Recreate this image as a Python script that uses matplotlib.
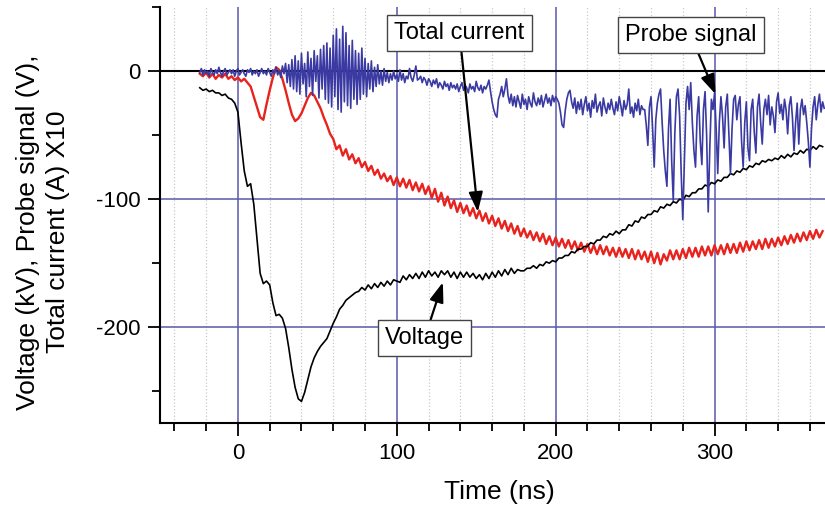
import numpy as np
import matplotlib
matplotlib.use("Agg")
import matplotlib.pyplot as plt
from matplotlib.ticker import MultipleLocator

plt.rcParams['font.family'] = ['Liberation Sans', 'DejaVu Sans']
plt.rcParams['axes.unicode_minus'] = False

# time grids (ns)
t_slow = np.arange(-24, 369, 2)   # voltage and current, every 2 ns
t_probe = np.arange(-24, 370, 1)  # probe signal, every 1 ns

# Voltage (kV)
voltage = [
    -13, -15, -14, -16, -15, -17, -17, -19, -18, -21,
    -22, -25, -32, -56, -78, -90, -88, -104, -131, -158,
    -166, -164, -167, -181, -191, -190, -193, -201, -216, -233,
    -247, -256, -258, -251, -241, -231, -224, -219, -215, -212,
    -209, -203, -197, -192, -186, -183, -179, -177, -175, -173,
    -172, -169, -171, -167, -170, -166, -169, -165, -168, -164,
    -167, -163, -164, -165, -160, -163, -159, -162, -158, -162,
    -157, -161, -156, -160, -157, -161, -156, -159, -156, -161,
    -157, -162, -157, -161, -157, -161, -158, -162, -159, -163,
    -158, -162, -157, -161, -156, -160, -155, -159, -154, -158,
    -155, -156, -156, -154, -154, -152, -154, -151, -152, -149,
    -150, -148, -149, -146, -146, -144, -144, -141, -142, -139,
    -139, -137, -137, -134, -135, -132, -132, -129, -130, -127,
    -128, -125, -127, -124, -124, -120, -121, -117, -118, -114,
    -115, -112, -112, -109, -110, -106, -107, -104, -105, -102,
    -103, -100, -101, -97, -98, -95, -95, -92, -92, -89,
    -90, -87, -88, -85, -86, -83, -83, -80, -81, -78,
    -79, -76, -77, -74, -75, -72, -73, -70, -71, -69,
    -70, -68, -69, -66, -68, -65, -67, -64, -65, -62,
    -64, -61, -62, -59, -61, -58, -59,
]

# Total current (A) x10
current = [
    -2, -4, -1, -5, -2, -6, -3, -5, -2, -6,
    -4, -7, -5, -8, -6, -9, -12, -20, -28, -36,
    -38, -26, -15, -5, 3, 1, -6, -15, -25, -34,
    -39, -37, -33, -27, -21, -17, -19, -24, -29, -36,
    -42, -49, -53, -61, -58, -66, -61, -69, -65, -72,
    -68, -75, -71, -78, -74, -81, -77, -84, -80, -86,
    -82, -89, -83, -90, -84, -91, -85, -93, -87, -94,
    -88, -96, -90, -99, -92, -102, -95, -105, -98, -107,
    -101, -110, -103, -111, -105, -113, -107, -115, -109, -117,
    -111, -119, -113, -121, -115, -123, -117, -125, -119, -127,
    -121, -129, -123, -130, -125, -132, -126, -133, -127, -135,
    -129, -136, -130, -137, -131, -138, -132, -139, -133, -140,
    -134, -141, -135, -142, -136, -143, -136, -143, -137, -144,
    -138, -145, -138, -145, -139, -146, -139, -147, -140, -147,
    -141, -149, -141, -150, -142, -151, -143, -148, -140, -147,
    -140, -147, -139, -146, -138, -145, -138, -145, -137, -144,
    -137, -144, -136, -143, -136, -143, -135, -142, -135, -142,
    -134, -141, -133, -140, -133, -139, -132, -139, -131, -138,
    -131, -137, -130, -136, -129, -135, -128, -134, -127, -133,
    -126, -132, -125, -131, -124, -130, -125,
]

# Probe signal (V)
probe = [
    -1, 2, -3, 1, -2, 0, -4, 2, -1, -3, 1, -2, 3, -1, -4, 0, 2, -3, -1, 1,
    -2, 1, -4, 0, 2, -3, -1, 1, -2, -4, 1, -1, 2, -3, 0, -2, 1, -4, -1, 2,
    -2, 0, -3, 2, -1, -4, 1, -2, 3, -3, 0, -5, 4, -2, 6, -9, 5, -12, 9, -14,
    12, -16, 8, -18, 14, -10, 6, -20, 15, -12, 10, -19, 16, -8, 12, -21, 17, -14, 20, -22,
    22, -25, 18, -28, 28, -20, 33, -30, 25, -32, 35, -24, 30, -27, 20, -29, 24, -22, 16, -26,
    14, -22, 18, -18, 10, -20, 6, -14, 8, -16, 3, -12, 5, -10, 0, -11, 2, -8, -1, -9,
    -2, -7, 0, -6, -3, -8, 1, -7, -2, -9, -4, -6, 2, -5, -8, -3, 4, -7, -6, -4,
    -9, -5, -7, -11, -6, -8, -12, -7, -10, -6, -13, -9, -11, -14, -8, -12, -10, -15, -9, -13,
    -11, -14, -10, -16, -12, -9, -15, -11, -13, -17, -10, -14, -12, -16, -8, -13, -15, -11, -17, -12,
    -14, -11, -7, -16, -24, -30, -34, -36, -22, -18, -12, -20, -14, -6, -19, -25, -18, -27, -20, -28,
    -19, -24, -29, -18, -26, -22, -30, -20, -25, -28, -17, -24, -27, -21, -26, -19, -28, -23, -18, -25,
    -21, -27, -19, -24, -20, -22, -25, -32, -42, -44, -31, -22, -17, -15, -24, -29, -21, -33, -24, -30,
    -22, -34, -26, -20, -31, -25, -36, -23, -29, -18, -32, -27, -24, -35, -21, -28, -33, -25, -30, -22,
    -29, -34, -24, -31, -20, -27, -35, -23, -30, -26, -14, -33, -28, -36, -25, -31, -22, -34, -27, -30,
    -30, -42, -58, -28, -20, -45, -75, -38, -25, -18, -14, -40, -62, -78, -90, -45, -22, -70, -101, -48,
    -20, -14, -35, -80, -116, -70, -25, -12, -30, -9, -40, -62, -75, -35, -20, -55, -73, -30, -16, -50,
    -110, -60, -22, -30, -17, -45, -80, -40, -20, -35, -60, -28, -18, -50, -80, -45, -22, -19, -38, -26,
    -20, -55, -75, -40, -24, -60, -70, -30, -22, -48, -64, -28, -18, -40, -57, -30, -22, -34, -19, -42,
    -28, -35, -48, -24, -17, -33, -26, -38, -22, -30, -49, -27, -20, -36, -62, -40, -25, -57, -30, -22,
    -34, -27, -40, -55, -75, -45, -28, -20, -38, -26, -18, -32, -24, -29,
]

grid_blue = '#5858ad'

fig = plt.figure(figsize=(8.25, 5.08), dpi=100)
ax = fig.add_axes([0.194, 0.167, 0.806, 0.819])

ax.xaxis.set_major_locator(MultipleLocator(100))
ax.xaxis.set_minor_locator(MultipleLocator(20))
ax.yaxis.set_major_locator(MultipleLocator(100))
ax.yaxis.set_minor_locator(MultipleLocator(50))
ax.grid(which='minor', axis='x', color='#c8c8c8', linestyle=':', linewidth=0.9)
ax.grid(which='major', axis='both', color=grid_blue, linewidth=1.1)
ax.set_axisbelow(True)
ax.axhline(0, color='black', linewidth=1.5, zorder=1.5)

ax.plot(t_slow, current, color='#e8231e', linewidth=1.7, zorder=2)
ax.plot(t_slow, voltage, color='black', linewidth=1.2, zorder=3)
ax.plot(t_probe, probe, color='#3a3aa2', linewidth=1.2, zorder=4)

ax.set_xlim(-49, 369.5)
ax.set_ylim(-275, 50)

for side in ['top', 'right']:
    ax.spines[side].set_visible(False)
for side in ['left', 'bottom']:
    ax.spines[side].set_linewidth(1.5)
ax.tick_params(which='major', direction='out', length=9, width=1.3, labelsize=16, pad=5)
ax.tick_params(which='minor', direction='out', length=6, width=1.3)

fig.text(43 / 825, 1 - 232 / 508, 'Voltage (kV), Probe signal (V),\nTotal current (A) X10',
         rotation=90, ha='center', va='center', multialignment='center', fontsize=19,
         linespacing=1.3)
fig.text(499 / 825, 1 - 492 / 508, 'Time (ns)', ha='center', va='center', fontsize=19)

box = dict(boxstyle='square,pad=0.3', fc='white', ec='#444444', lw=1)
arrow = dict(arrowstyle='-|>,head_length=0.7,head_width=0.25', color='black', lw=1.6,
             shrinkA=0, shrinkB=0)
ax.annotate('Total current', xy=(151, -110), xytext=(139.5, 29.5), ha='center', va='center',
            fontsize=17, bbox=box, arrowprops=arrow, zorder=6)
ax.annotate('Probe signal', xy=(300.6, -18), xytext=(285, 28), ha='center', va='center',
            fontsize=17, bbox=box, arrowprops=arrow, zorder=6)
ax.annotate('Voltage', xy=(129, -165), xytext=(117.5, -208.5), ha='center', va='center',
            fontsize=17, bbox=box, arrowprops=arrow, zorder=6)

fig.savefig('out.png', dpi=100)
